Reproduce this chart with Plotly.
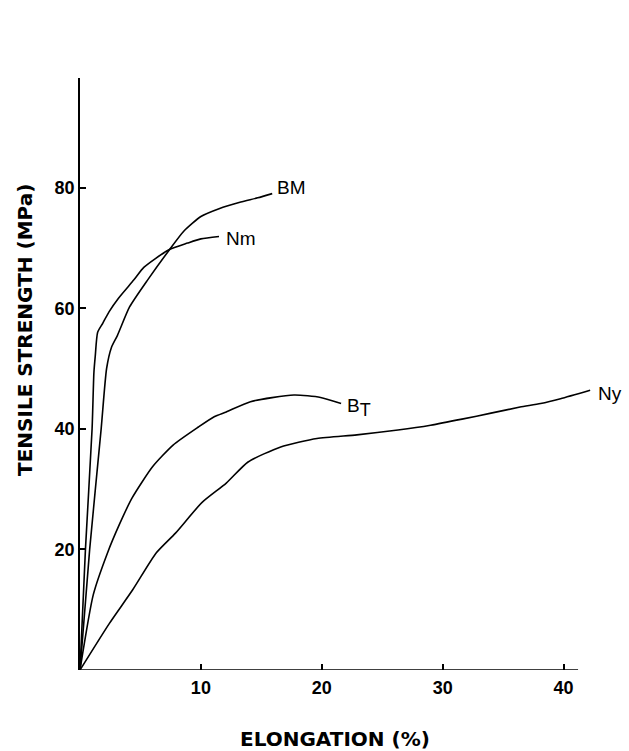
import plotly.graph_objects as go

# ---- data ----
bm_x = [0, 0.8, 1.75, 2.2, 2.6, 3.1, 4.1, 5.6, 7.4, 8.6, 10.0, 11.5, 13.3, 14.7, 15.9]
bm_y = [0, 20, 40, 50, 53.5, 55.5, 60.2, 64.7, 69.7, 72.8, 75.2, 76.5, 77.6, 78.3, 79.0]

nm_x = [0, 0.45, 1.0, 1.15, 1.26, 1.46, 1.88, 2.4, 3.2, 4.46, 5.3, 7.36, 8.9, 10.0, 11.5]
nm_y = [0, 20, 40, 49.3, 52, 56, 57.5, 59.4, 61.7, 64.7, 66.8, 69.7, 70.8, 71.5, 71.9]

bt_x = [0, 1.1, 2.29, 3.25, 4.3, 6.0, 7.7, 9.8, 11.1, 12.1, 14.1, 17.7, 19.9, 21.6]
bt_y = [0, 12.5, 19.5, 24.1, 28.5, 33.7, 37.3, 40.3, 42.0, 42.8, 44.5, 45.6, 45.2, 44.2]

ny_x = [0, 2.42, 4.36, 6.3, 7.9, 10.1, 12.1, 13.9, 16.6, 19.6, 22.9, 26.3, 29.0, 31.6, 34.0, 36.4, 38.1, 39.75, 42.2]
ny_y = [0, 7.7, 13.3, 19.4, 22.7, 27.8, 31.0, 34.5, 37.0, 38.4, 39.0, 39.8, 40.6, 41.6, 42.6, 43.6, 44.2, 45.0, 46.4]

series_names = ["BM", "Nm", 'B<sub><span style="font-size:18px">T</span></sub>', "Ny"]

x_ticks = [10, 20, 30, 40]
y_ticks = [20, 40, 60, 80]
x_axis_end = 41.2

x_title = "ELONGATION (%)"
y_title = "TENSILE STRENGTH (MPa)"

# ---- figure ----
W, H = 629, 751
ML, MR, MT, MB = 80, 5, 78, 81
x_max = 45.0
px_per_y = 6.03
plot_w = W - ML - MR
plot_h = H - MT - MB
y_top = plot_h / px_per_y

fig = go.Figure()
line_style = dict(color="black", width=1.6, shape="spline", smoothing=0.6)
for xs, ys, name in [(bm_x, bm_y, series_names[0]), (nm_x, nm_y, series_names[1]),
                     (bt_x, bt_y, series_names[2]), (ny_x, ny_y, series_names[3])]:
    fig.add_trace(go.Scatter(x=xs, y=ys, mode="lines", line=line_style,
                             name=name, showlegend=False, hoverinfo="skip",
                             cliponaxis=False))

label_font = dict(family="Liberation Sans, Arial, sans-serif", size=19, color="black")
# curve labels placed just after each curve's last point
for xs, ys, name, dx, dy in [(bm_x, bm_y, series_names[0], 0.2, 1.1),
                             (nm_x, nm_y, series_names[1], 0.45, -0.3),
                             (bt_x, bt_y, series_names[2], 0.35, -0.6),
                             (ny_x, ny_y, series_names[3], 0.45, -0.5)]:
    fig.add_annotation(x=xs[-1] + dx, y=ys[-1] + dy, text=name, showarrow=False,
                       xanchor="left", yanchor="middle", font=label_font)

# axis titles as paper-positioned annotations (positions in pixels -> paper fraction)
title_font = dict(family="DejaVu Sans, sans-serif", size=20, color="black", weight="bold")
fig.add_annotation(x=(335 - ML) / plot_w, y=(H - MB - 739) / plot_h,
                   xref="paper", yref="paper", text=x_title,
                   showarrow=False, font=title_font, xanchor="center", yanchor="middle")
fig.add_annotation(x=(25 - ML) / plot_w, y=(H - MB - 330) / plot_h,
                   xref="paper", yref="paper", text=y_title,
                   textangle=-90, showarrow=False, font=title_font,
                   xanchor="center", yanchor="middle")

# x-axis line (stops short of the plot edge as in the reference)
fig.add_shape(type="line", x0=0, x1=x_axis_end, y0=0, y1=0, xref="x", yref="y",
              line=dict(color="black", width=1.6), layer="above")

tick_font = dict(family="Liberation Sans, Arial, sans-serif", size=18, color="black",
                 weight="bold")
fig.update_xaxes(range=[0, x_max], showgrid=False, zeroline=False, showline=False,
                 tickmode="array", tickvals=x_ticks, ticks="inside", ticklen=6,
                 tickwidth=1.5, tickcolor="black", tickfont=tick_font,
                 ticklabelstandoff=5, automargin=False)
fig.update_yaxes(range=[0, y_top], showgrid=False, zeroline=False, showline=True,
                 linecolor="black", linewidth=1.6,
                 tickmode="array", tickvals=y_ticks, ticks="inside", ticklen=6,
                 tickwidth=1.5, tickcolor="black", tickfont=tick_font,
                 ticklabelstandoff=0, automargin=False)

fig.update_layout(width=W, height=H, margin=dict(l=ML, r=MR, t=MT, b=MB),
                  plot_bgcolor="white", paper_bgcolor="white", showlegend=False)

fig.write_html("out.html", config={"displayModeBar": False},
               post_script="document.body.style.margin='0px';")
